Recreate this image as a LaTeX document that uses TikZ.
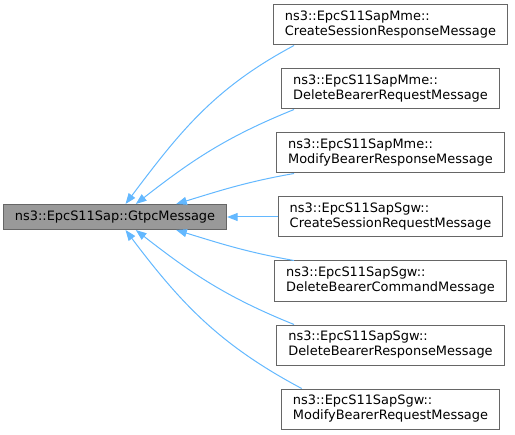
\documentclass[tikz,border=0pt]{standalone}
\usepackage{fontspec}
\setmainfont{DejaVu Sans}
\usepackage{xcolor}
\usetikzlibrary{positioning, arrows.meta}

\definecolor{edgeblue}{HTML}{63B8FF}
\definecolor{boxgray}{HTML}{666666}
\definecolor{basefill}{HTML}{999999}

\begin{document}
\begin{tikzpicture}[x=0.75pt,y=0.75pt,node distance=48pt,on grid,
  cls/.style={draw=boxgray,fill=white,line width=0.75pt,align=left,
    inner xsep=8.6pt,inner ysep=0pt,minimum height=30pt,
    font=\fontsize{9.7}{11.25}\selectfont},
  basecls/.style={cls,fill=basefill,minimum height=18.75pt},
  inherit/.style={draw=edgeblue,line width=0.75pt,
    {Triangle[length=8pt,width=6pt,color=edgeblue,fill=edgeblue]}-}]
  \useasboundingbox (0,0) rectangle (515,-435);

  % 基类
  \node[basecls] (base) at (115,-217) {ns3::EpcS11Sap::GtpcMessage};

  % 派生类（自上而下）
  \node[cls] (csresp) at (390.5,-25) {ns3::EpcS11SapMme::\\CreateSessionResponseMessage};
  \node[cls] (dbreq) [below=of csresp] {ns3::EpcS11SapMme::\\DeleteBearerRequestMessage};
  \node[cls] (mbresp) [below=of dbreq] {ns3::EpcS11SapMme::\\ModifyBearerResponseMessage};
  \node[cls] (csreq) [below=of mbresp] {ns3::EpcS11SapSgw::\\CreateSessionRequestMessage};
  \node[cls] (dbcmd) [below=of csreq] {ns3::EpcS11SapSgw::\\DeleteBearerCommandMessage};
  \node[cls] (dbresp) [below=of dbcmd] {ns3::EpcS11SapSgw::\\DeleteBearerResponseMessage};
  \node[cls] (mbreq) [below=of dbresp] {ns3::EpcS11SapSgw::\\ModifyBearerRequestMessage};

  % 继承箭头，指向基类
  \path
    (base.51) edge[inherit,out=53,in=208] (csresp.192)
    (base.32) edge[inherit,out=38,in=202] (dbreq.192)
    (base.12.4) edge[inherit,out=17,in=190] (mbresp.192)
    (base.east) edge[inherit] (csreq.west)
    (base.-12.4) edge[inherit,out=-17,in=170] (dbcmd.168)
    (base.-32) edge[inherit,out=-38,in=158] (dbresp.168)
    (base.-51) edge[inherit,out=-53,in=152] (mbreq.167);
\end{tikzpicture}
\end{document}
